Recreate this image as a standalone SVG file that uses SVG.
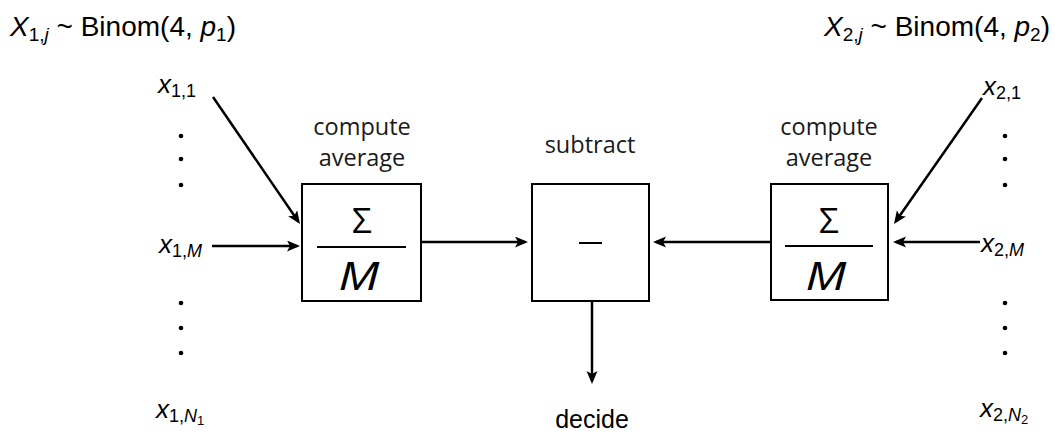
<svg xmlns="http://www.w3.org/2000/svg" width="1055" height="434" viewBox="0 0 1055 434">
<defs>
<marker id="ah" markerUnits="userSpaceOnUse" markerWidth="14" markerHeight="12" refX="10" refY="5.5" orient="auto">
<path d="M0,0 L13,5.5 L0,11 L3,5.5 z" fill="#000"/>
</marker>
</defs>
<style>
.box{fill:#fff;stroke:#000;stroke-width:2}
.conn{stroke:#000;stroke-width:2.5;fill:none;marker-end:url(#ah)}
.hum{font-family:"Open Sans",sans-serif;font-size:23.5px;fill:#1a1a1a;text-anchor:middle}
.sym{font-family:"Open Sans",sans-serif;fill:#000;text-anchor:middle}
.math{font-family:"Liberation Sans",Arial,sans-serif;fill:#000}
.lbl{font-family:"Liberation Sans",Arial,sans-serif;font-size:26px;fill:#000}
.it{font-style:italic}
.sub{font-size:18px}
.frac{stroke:#000;stroke-width:2}
.dot{fill:#000}
</style>
<rect width="1055" height="434" fill="#fff"/>

<g id="dist1">
<text class="math" x="10" y="36" font-size="28"><tspan class="it">X</tspan><tspan font-size="19" dy="5">1,</tspan><tspan font-size="19" class="it">j</tspan><tspan dy="-5"> ~ Binom(4, </tspan><tspan class="it">p</tspan><tspan font-size="19" dy="5">1</tspan><tspan dy="-5">)</tspan></text>
</g>
<g id="dist2">
<text class="math" x="1050" y="36" font-size="28" text-anchor="end"><tspan class="it">X</tspan><tspan font-size="19" dy="5">2,</tspan><tspan font-size="19" class="it">j</tspan><tspan dy="-5"> ~ Binom(4, </tspan><tspan class="it">p</tspan><tspan font-size="19" dy="5">2</tspan><tspan dy="-5">)</tspan></text>
</g>

<g id="in1">
<text class="lbl" x="158" y="93"><tspan class="it">x</tspan><tspan class="sub" dy="4">1,1</tspan></text>
<text class="lbl" x="159" y="253"><tspan class="it">x</tspan><tspan class="sub" dy="4">1,</tspan><tspan class="sub it">M</tspan></text>
<text class="lbl" x="156" y="418"><tspan class="it">x</tspan><tspan class="sub" dy="4">1,</tspan><tspan class="sub it">N</tspan><tspan style="font-size:13px" dy="3">1</tspan></text>
<circle class="dot" cx="181" cy="136" r="2.3"/>
<circle class="dot" cx="181" cy="159" r="2.3"/>
<circle class="dot" cx="181" cy="185" r="2.3"/>
<circle class="dot" cx="181" cy="303" r="2.3"/>
<circle class="dot" cx="181" cy="328" r="2.3"/>
<circle class="dot" cx="181" cy="353" r="2.3"/>
</g>

<g id="in2">
<text class="lbl" x="983" y="95"><tspan class="it">x</tspan><tspan class="sub" dy="4">2,1</tspan></text>
<text class="lbl" x="981" y="252"><tspan class="it">x</tspan><tspan class="sub" dy="4">2,</tspan><tspan class="sub it">M</tspan></text>
<text class="lbl" x="980" y="417"><tspan class="it">x</tspan><tspan class="sub" dy="4">2,</tspan><tspan class="sub it">N</tspan><tspan style="font-size:13px" dy="3">2</tspan></text>
<circle class="dot" cx="1005" cy="136" r="2.3"/>
<circle class="dot" cx="1005" cy="159" r="2.3"/>
<circle class="dot" cx="1005" cy="185" r="2.3"/>
<circle class="dot" cx="1005" cy="303" r="2.3"/>
<circle class="dot" cx="1005" cy="328" r="2.3"/>
<circle class="dot" cx="1005" cy="353" r="2.3"/>
</g>

<g id="avg1">
<text class="hum" x="362" y="135">compute</text>
<text class="hum" x="362" y="166">average</text>
<rect class="box" x="302" y="184" width="119" height="117"/>
<line class="frac" x1="317" y1="247" x2="406" y2="247"/>
<text class="sym" x="362" y="233" style="font-size:35px">Σ</text>
<text class="sym it" transform="translate(359,290) scale(1.25,1)" x="0" y="0" style="font-size:39px">M</text>
</g>

<g id="sub">
<text class="hum" x="590" y="153">subtract</text>
<rect class="box" x="532" y="184" width="117" height="117"/>
<line class="frac" x1="579" y1="243" x2="602" y2="243"/>
</g>

<g id="avg2">
<text class="hum" x="829" y="135">compute</text>
<text class="hum" x="829" y="166">average</text>
<rect class="box" x="771" y="184" width="117" height="116"/>
<line class="frac" x1="785" y1="246" x2="873" y2="246"/>
<text class="sym" x="829" y="233" style="font-size:35px">Σ</text>
<text class="sym it" transform="translate(826,290) scale(1.25,1)" x="0" y="0" style="font-size:39px">M</text>
</g>

<g id="decide">
<text class="math" x="592" y="428" font-size="25" text-anchor="middle">decide</text>
</g>

<g id="connectors">
<line class="conn" x1="213" y1="97" x2="298.3" y2="221.5"/>
<line class="conn" x1="212" y1="246" x2="297" y2="246"/>
<line class="conn" x1="421" y1="242" x2="525" y2="242"/>
<line class="conn" x1="771" y1="242" x2="656" y2="242"/>
<line class="conn" x1="982" y1="98" x2="895.7" y2="221.5"/>
<line class="conn" x1="980" y1="242" x2="896" y2="242"/>
<line class="conn" x1="592" y1="301" x2="592" y2="381"/>
</g>
</svg>
